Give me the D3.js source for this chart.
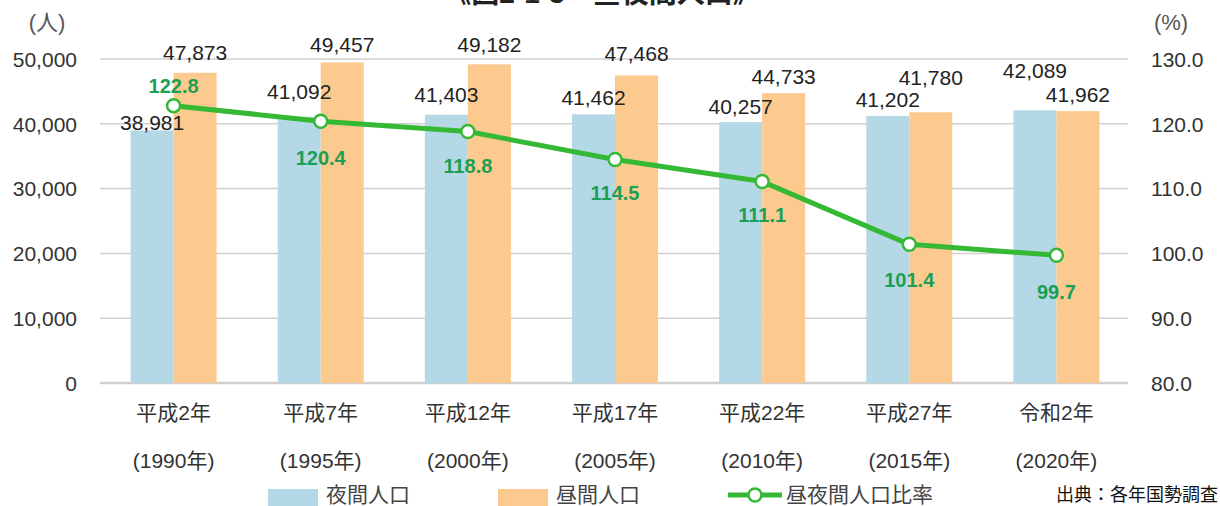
<!DOCTYPE html>
<html>
<head>
<meta charset="utf-8">
<script src="https://cdn.jsdelivr.net/npm/d3@7"></script>
<style>
  body { margin: 0; background: #fff; }
  svg text { font-family: "Liberation Sans", Arial, "Noto Sans CJK JP", sans-serif; fill: #333; }
</style>
</head>
<body>
<div id="chart-area"></div>
<script>
// data
const years = ["平成2年", "平成7年", "平成12年", "平成17年", "平成22年", "平成27年", "令和2年"];
const westernYears = ["(1990年)", "(1995年)", "(2000年)", "(2005年)", "(2010年)", "(2015年)", "(2020年)"];
const nightPop = [38981, 41092, 41403, 41462, 40257, 41202, 42089];
const dayPop = [47873, 49457, 49182, 47468, 44733, 41780, 41962];
const ratio = [122.8, 120.4, 118.8, 114.5, 111.1, 101.4, 99.7];
const popTicks = [0, 10000, 20000, 30000, 40000, 50000];
const ratioTicks = [80, 90, 100, 110, 120, 130];

// label nudges so the numbers sit where the original put them
const nightLabelDy = [-8, -25, -20, -17, -15, -16, -40];
const dayLabelDy = [-20, -18, -20, -22, -16, -35, -16];
const ratioLabelDy = [-20, 37, 34, 34, 34, 36, 37];

const W = 1220, H = 506;
const blue = "#b5d8e7", orange = "#fcca8e", green = "#35b935", greenText = "#1c9f55";

let svg = d3.select("#chart-area")
  .append("svg")
  .attr("width", W)
  .attr("height", H);

let xVal = d3.scaleBand().domain(years).range([100, 1130]);
let xSub = d3.scaleBand().domain(["night", "day"]).range([-43, 43]);
let yVal = d3.scaleLinear().domain([0, 50000]).range([383, 59]);
let yRatio = d3.scaleLinear().domain([80, 130]).range([383, 59]);
let center = d => xVal(d) + xVal.bandwidth() / 2;

// title (cut off at the top edge in the reference)
svg.append("text")
  .attr("x", 602).attr("y", 3)
  .attr("text-anchor", "middle")
  .attr("font-size", "28px").attr("font-weight", "bold")
  .style("fill", "#222")
  .text("《図2-1-3　昼夜間人口》");

// gridlines
svg.append("g").selectAll("line")
  .data(popTicks)
  .enter().append("line")
  .attr("x1", 100).attr("x2", 1128)
  .attr("y1", d => yVal(d)).attr("y2", d => yVal(d))
  .attr("stroke", "#cfcfcf")
  .attr("stroke-width", d => d === 0 ? 2.5 : 1.5);

// left axis
let yAxis = d3.axisLeft(yVal).tickValues(popTicks).tickSize(0).tickPadding(0)
  .tickFormat(d3.format(","));
let yAxisG = svg.append("g").attr("transform", "translate(77,0)").call(yAxis);
yAxisG.select(".domain").remove();
yAxisG.selectAll("text").attr("font-size", "21px").attr("font-family", null).attr("dy", "0.35em");

// right axis
let y2Axis = d3.axisRight(yRatio).tickValues(ratioTicks).tickSize(0).tickPadding(0)
  .tickFormat(d3.format(".1f"));
let y2AxisG = svg.append("g").attr("transform", "translate(1151,0)").call(y2Axis);
y2AxisG.select(".domain").remove();
y2AxisG.selectAll("text").attr("font-size", "21px").attr("font-family", null).attr("dy", "0.35em");

// unit labels
svg.append("text").attr("x", 47).attr("y", 30).attr("text-anchor", "middle")
  .attr("font-size", "22px").style("fill", "#555").text("(人)");
svg.append("text").attr("x", 1171).attr("y", 30).attr("text-anchor", "middle")
  .attr("font-size", "22px").style("fill", "#555").text("(%)");

// bars
let bars = svg.append("g");
bars.selectAll(".night")
  .data(nightPop)
  .enter().append("rect")
  .attr("class", "night")
  .attr("x", (d, i) => center(years[i]) + xSub("night"))
  .attr("width", xSub.bandwidth())
  .attr("y", d => yVal(d))
  .attr("height", d => yVal(0) - yVal(d))
  .attr("fill", blue);
bars.selectAll(".day")
  .data(dayPop)
  .enter().append("rect")
  .attr("class", "day")
  .attr("x", (d, i) => center(years[i]) + xSub("day"))
  .attr("width", xSub.bandwidth())
  .attr("y", d => yVal(d))
  .attr("height", d => yVal(0) - yVal(d))
  .attr("fill", orange);

// x labels
let xLab = svg.append("g");
xLab.selectAll(".yr")
  .data(years)
  .enter().append("text")
  .attr("x", d => center(d)).attr("y", 420)
  .attr("text-anchor", "middle").attr("font-size", "21px")
  .text(d => d);
xLab.selectAll(".wy")
  .data(westernYears)
  .enter().append("text")
  .attr("x", (d, i) => center(years[i])).attr("y", 468)
  .attr("text-anchor", "middle").attr("font-size", "21px")
  .text(d => d);

// bar value labels
let fmt = d3.format(",");
svg.append("g").selectAll("text")
  .data(nightPop)
  .enter().append("text")
  .attr("x", (d, i) => center(years[i]) + xSub("night") + xSub.bandwidth() / 2)
  .attr("y", (d, i) => yVal(d) + nightLabelDy[i])
  .attr("dy", "0.35em")
  .attr("text-anchor", "middle").attr("font-size", "21px")
  .style("fill", "#222")
  .text(d => fmt(d));
svg.append("g").selectAll("text")
  .data(dayPop)
  .enter().append("text")
  .attr("x", (d, i) => center(years[i]) + xSub("day") + xSub.bandwidth() / 2)
  .attr("y", (d, i) => yVal(d) + dayLabelDy[i])
  .attr("dy", "0.35em")
  .attr("text-anchor", "middle").attr("font-size", "21px")
  .style("fill", "#222")
  .text(d => fmt(d));

// ratio line
let line = d3.line()
  .x((d, i) => center(years[i]))
  .y(d => yRatio(d));
svg.append("path")
  .attr("d", line(ratio))
  .attr("fill", "none")
  .attr("stroke", green)
  .attr("stroke-width", 5)
  .attr("stroke-linejoin", "round");
svg.append("g").selectAll("circle")
  .data(ratio)
  .enter().append("circle")
  .attr("cx", (d, i) => center(years[i]))
  .attr("cy", d => yRatio(d))
  .attr("r", 6.5)
  .attr("fill", "#fff")
  .attr("stroke", green)
  .attr("stroke-width", 2.5);
svg.append("g").selectAll("text")
  .data(ratio)
  .enter().append("text")
  .attr("x", (d, i) => center(years[i]))
  .attr("y", (d, i) => yRatio(d) + ratioLabelDy[i])
  .attr("dy", "0.35em")
  .attr("text-anchor", "middle").attr("font-size", "20px").attr("font-weight", "bold")
  .style("fill", greenText)
  .text(d => d.toFixed(1));

// legend
let leg = svg.append("g");
leg.append("rect").attr("x", 268).attr("y", 489).attr("width", 50).attr("height", 17).attr("fill", blue);
leg.append("text").attr("x", 326).attr("y", 502).attr("font-size", "21px").style("fill", "#444").text("夜間人口");
leg.append("rect").attr("x", 498).attr("y", 489).attr("width", 50).attr("height", 17).attr("fill", orange);
leg.append("text").attr("x", 556).attr("y", 502).attr("font-size", "21px").style("fill", "#444").text("昼間人口");
leg.append("line").attr("x1", 728).attr("x2", 782).attr("y1", 495).attr("y2", 495)
  .attr("stroke", green).attr("stroke-width", 5);
leg.append("circle").attr("cx", 755).attr("cy", 495).attr("r", 6.5)
  .attr("fill", "#fff").attr("stroke", green).attr("stroke-width", 2.5);
leg.append("text").attr("x", 786).attr("y", 502).attr("font-size", "21px").style("fill", "#444").text("昼夜間人口比率");

svg.append("text").attr("x", 1218).attr("y", 501).attr("text-anchor", "end")
  .attr("font-size", "18px").style("fill", "#111").text("出典：各年国勢調査");
</script>
</body>
</html>
